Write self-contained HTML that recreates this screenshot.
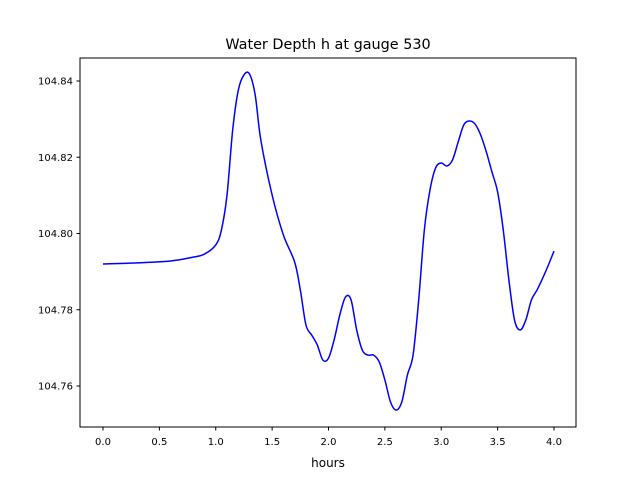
<!DOCTYPE html>
<html><head><meta charset="utf-8"><style>
body{margin:0;background:#fff;font-family:"DejaVu Sans","Liberation Sans",sans-serif;}
svg text{font-family:"DejaVu Sans","Liberation Sans",sans-serif;fill:#000;}
</style></head><body>
<svg id="chart" width="640" height="480" xmlns="http://www.w3.org/2000/svg">
<rect width="640" height="480" fill="#fff"/>
<text x="328" y="49" font-size="14.4" text-anchor="middle">Water Depth h at gauge 530</text>
<g id="plot"></g>
<rect x="80" y="58" width="496" height="369" fill="none" stroke="#000" stroke-width="1"/>
<g id="xt"></g>
<g id="yt"></g>
<text x="328" y="467" font-size="12" text-anchor="middle">hours</text>
</svg>
<script>
const hours=[0,0.3,0.6,0.8,0.9,1.0,1.05,1.1,1.15,1.2,1.25,1.3,1.35,1.4,1.5,1.6,1.7,1.75,1.8,1.85,1.9,1.95,2.0,2.05,2.1,2.15,2.2,2.25,2.3,2.35,2.4,2.45,2.5,2.55,2.6,2.65,2.7,2.75,2.8,2.85,2.9,2.95,3.0,3.05,3.1,3.15,3.2,3.25,3.3,3.35,3.4,3.45,3.5,3.55,3.6,3.65,3.7,3.75,3.8,3.85,3.9,3.95,4.0];
const depth=[104.7920,104.7923,104.7928,104.7938,104.7946,104.7970,104.8009,104.8101,104.8271,104.8376,104.8416,104.8418,104.8363,104.8245,104.8101,104.7996,104.7925,104.7852,104.7760,104.7734,104.7708,104.7668,104.7673,104.7721,104.7786,104.7833,104.7826,104.7747,104.7694,104.7681,104.7681,104.7663,104.7616,104.7558,104.7537,104.7558,104.7629,104.7681,104.7826,104.8009,104.8114,104.8172,104.8185,104.8177,104.8193,104.8240,104.8285,104.8295,104.8287,104.8258,104.8214,104.8161,104.8109,104.8009,104.7878,104.7773,104.7747,104.7773,104.7826,104.7852,104.7883,104.7917,104.7954];
const xTicks=[0,0.5,1,1.5,2,2.5,3,3.5,4];
const xTickLabels=["0.0","0.5","1.0","1.5","2.0","2.5","3.0","3.5","4.0"];
const yTicks=[104.76,104.78,104.80,104.82,104.84];
const yTickLabels=["104.76","104.78","104.80","104.82","104.84"];
const X=v=>103+(v-0)*112.75;
const Y=v=>81+(104.84-v)*3812.5;
const NS="http://www.w3.org/2000/svg";
function mk(t,a,p){const e=document.createElementNS(NS,t);for(const k in a)e.setAttribute(k,a[k]);p.appendChild(e);return e;}
// smooth path (Catmull-Rom)
const pts=hours.map((h,i)=>[X(h),Y(depth[i])]);
let d="M"+pts[0][0]+","+pts[0][1];
for(let i=0;i<pts.length-1;i++){const p0=pts[Math.max(0,i-1)],p1=pts[i],p2=pts[i+1],p3=pts[Math.min(pts.length-1,i+2)];
d+=" C"+(p1[0]+(p2[0]-p0[0])/6)+","+(p1[1]+(p2[1]-p0[1])/6)+" "+(p2[0]-(p3[0]-p1[0])/6)+","+(p2[1]-(p3[1]-p1[1])/6)+" "+p2[0]+","+p2[1];}
const line=mk("path",{d:d,fill:"none",stroke:"#0000ff","stroke-width":1.5},document.getElementById("plot"));


const xt=document.getElementById("xt");
xTicks.forEach((v,i)=>{const l=mk("line",{x1:X(v),x2:X(v),y1:427,y2:430.5,stroke:"#000"},xt);


const t=mk("text",{x:X(v),y:445,"font-size":10,"text-anchor":"middle"},xt);t.textContent=xTickLabels[i];

});
const yt=document.getElementById("yt");
yTicks.forEach((v,i)=>{const l=mk("line",{x1:76.5,x2:80,y1:Y(v),y2:Y(v),stroke:"#000"},yt);


const t=mk("text",{x:73,y:Y(v)+3.5,"font-size":10,"text-anchor":"end"},yt);t.textContent=yTickLabels[i];

});
</script>
</body></html>
